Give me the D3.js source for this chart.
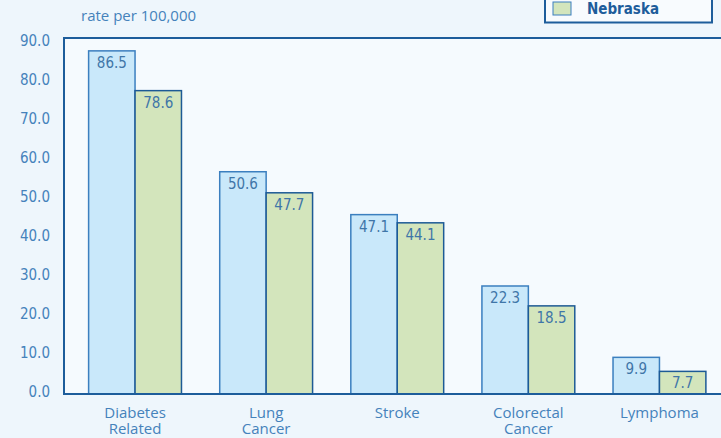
<!DOCTYPE html>
<html>
<head>
<meta charset="utf-8">
<script src="https://cdn.jsdelivr.net/npm/d3@7"></script>
<style>
  body { margin: 0; background: #eef6fc; }
  svg { display: block; }
</style>
</head>
<body>
<svg width="721" height="438"></svg>
<script>
// chart data
var categories = ["Diabetes Related", "Lung Cancer", "Stroke", "Colorectal Cancer", "Lymphoma"];
var categoryLines = [["Diabetes", "Related"], ["Lung", "Cancer"], ["Stroke"], ["Colorectal", "Cancer"], ["Lymphoma"]];
var series = ["United States", "Nebraska"];
// printed labels
var usLabels = [86.5, 50.6, 47.1, 22.3, 9.9];
var nebraskaLabels = [78.6, 47.7, 44.1, 18.5, 7.7];
// bar heights as drawn in the original
var usBars = [88.0, 57.0, 46.0, 27.7, 9.4];
var nebraskaBars = [77.8, 51.6, 43.9, 22.6, 5.8];
var yTicks = [0, 10, 20, 30, 40, 50, 60, 70, 80, 90];
// only the bottom legend row is inside the picture
var legendShown = ["Nebraska"];

var svg = d3.select("svg"),
    width = +svg.attr("width"),
    height = +svg.attr("height");

var numFont = "'Liberation Sans Narrow', 'DejaVu Sans Condensed', 'Arial Narrow', sans-serif";
var textFont = "'Open Sans', Lato, sans-serif";
var navy = "#1d5d9b";
var textBlue = "#4582bb";

var y = d3.scaleLinear().domain([0, 91.3]).range([394, 38]);

var x0 = d3.scaleBand()
  .domain(categories)
  .range([69.5, 725])
  .paddingInner(0.2917)
  .paddingOuter(0.1458);

var x1 = d3.scaleBand()
  .domain(series)
  .range([0, x0.bandwidth()]);

// plot area background
svg.append("rect")
  .attr("x", 64).attr("y", y.range()[1])
  .attr("width", width - 64).attr("height", y(0) - y.range()[1])
  .attr("fill", "#f5fafe");

// y labels
svg.append("g")
  .selectAll("text")
  .data(yTicks)
  .enter().append("text")
  .attr("x", 50)
  .attr("y", d => y(d) - 2)
  .attr("text-anchor", "end")
  .attr("dominant-baseline", "central")
  .style("font-family", numFont)
  .style("font-size", "15px")
  .attr("fill", textBlue)
  .text(d => d3.format(".1f")(d));

// axis caption
svg.append("text")
  .attr("x", 81).attr("y", 15)
  .attr("dominant-baseline", "central")
  .style("font-family", textFont)
  .style("font-size", "15px")
  .attr("fill", textBlue)
  .text("rate per 100,000");

var rows = categories.map((c, i) => ({
  cat: c,
  vals: [
    { s: series[0], bar: usBars[i], label: usLabels[i] },
    { s: series[1], bar: nebraskaBars[i], label: nebraskaLabels[i] }
  ]
}));

var fills = { "United States": "#c9e8fa", "Nebraska": "#d3e5bc" };
var strokes = { "United States": "#3b7fbf", "Nebraska": "#1d5a95" };

var group = svg.append("g")
  .selectAll("g")
  .data(rows)
  .enter().append("g")
  .attr("transform", d => "translate(" + x0(d.cat) + ",0)");

group.selectAll("rect")
  .data(d => d.vals)
  .enter().append("rect")
  .attr("x", d => x1(d.s))
  .attr("y", d => y(d.bar))
  .attr("width", x1.bandwidth())
  .attr("height", d => y(0) - y(d.bar))
  .attr("fill", d => fills[d.s])
  .attr("stroke", d => strokes[d.s])
  .attr("stroke-width", 1.5);

group.selectAll("text")
  .data(d => d.vals)
  .enter().append("text")
  .attr("x", d => x1(d.s) + x1.bandwidth() / 2)
  .attr("y", d => y(d.bar) + 12)
  .attr("text-anchor", "middle")
  .attr("dominant-baseline", "central")
  .style("font-family", numFont)
  .style("font-size", "15px")
  .attr("fill", "#3f76a8")
  .text(d => d3.format(".1f")(d.label));

// frame: left and top, then baseline
svg.append("path")
  .attr("d", "M64," + (y(0) + 1) + "V" + y.range()[1] + "H" + width)
  .attr("fill", "none")
  .attr("stroke", navy)
  .attr("stroke-width", 2);

svg.append("line")
  .attr("x1", 63).attr("x2", width)
  .attr("y1", y(0)).attr("y2", y(0))
  .attr("stroke", navy)
  .attr("stroke-width", 2);

// category labels, one text per line
var catLines = [];
categories.forEach((c, i) => {
  categoryLines[i].forEach((line, j) => catLines.push({ cat: c, line: line, row: j }));
});

svg.append("g")
  .selectAll("text")
  .data(catLines)
  .enter().append("text")
  .attr("x", d => x0(d.cat) + x0.bandwidth() / 2)
  .attr("y", d => 411.5 + d.row * 16.8)
  .attr("text-anchor", "middle")
  .attr("dominant-baseline", "central")
  .style("font-family", textFont)
  .style("font-size", "15px")
  .attr("fill", textBlue)
  .text(d => d.line);

// legend box (top row sits above the visible area)
var legend = svg.append("g");
legend.append("rect")
  .attr("x", 545).attr("y", -30)
  .attr("width", 167).attr("height", 52.5)
  .attr("fill", "#f8fbfe")
  .attr("stroke", navy)
  .attr("stroke-width", 2);

legend.selectAll("g")
  .data(legendShown)
  .enter().append("g")
  .attr("transform", "translate(553,2)")
  .each(function(d) {
    var g = d3.select(this);
    g.append("rect")
      .attr("width", 18).attr("height", 13)
      .attr("fill", fills[d])
      .attr("stroke", strokes["United States"])
      .attr("stroke-width", 1);
    g.append("text")
      .attr("x", 34).attr("y", 7)
      .attr("dominant-baseline", "central")
      .style("font-family", numFont)
      .style("font-size", "15px")
      .style("font-weight", "bold")
      .attr("fill", navy)
      .text(d);
  });
</script>
</body>
</html>
